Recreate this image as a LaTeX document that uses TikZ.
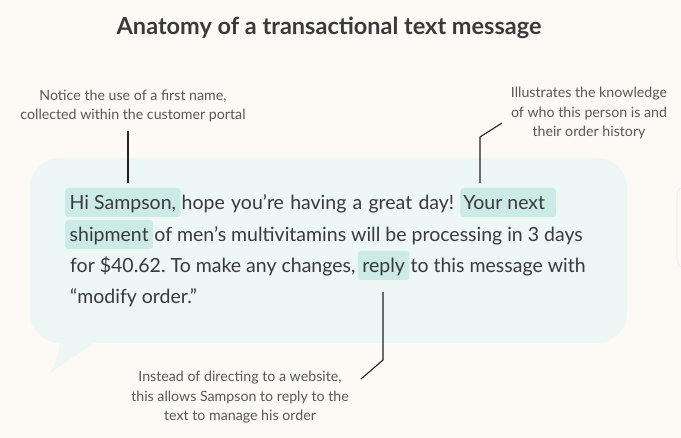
\documentclass[tikz,border=0pt]{standalone}
\usepackage{fontspec}
\setmainfont{Lato}
\frenchspacing
\definecolor{bgc}{HTML}{FDF9F5}
\definecolor{bub}{HTML}{EDF7F6}
\definecolor{hlc}{HTML}{CCEBE7}
\definecolor{txt}{HTML}{3A3A3A}
\definecolor{ann}{HTML}{585858}
\definecolor{ln}{HTML}{222222}
\tikzset{
  msg/.style={font=\fontsize{19.5}{22}\selectfont, text=txt, inner xsep=0.8pt, inner ysep=0pt, anchor=base west},
  hl/.style={msg, fill=hlc, rounded corners=3pt, inner xsep=4.5pt, text height=22pt, text depth=7pt},
  note/.style={font=\fontsize{14.2}{19.5}\selectfont, text=ann, align=center, inner sep=0pt},
  lead/.style={draw=ln, line width=1.1pt},
}
\begin{document}
\begin{tikzpicture}[x=1pt,y=-1pt]
\fill[bgc] (0,0) rectangle (681,438);
\useasboundingbox (0,0) rectangle (681,438);
% faint box at right edge
\draw[black!8, rounded corners=8pt, line width=0.6pt] (677,187) rectangle (700,268);
% title
\node[font=\fontsize{23.5}{26}\selectfont\bfseries, text=txt, anchor=base] (title) at (329,35) {Anatomy of a transactional text message};
% bubble
\fill[bub, rounded corners=30pt] (30,158) rectangle (627,343);
\fill[bub] (60,340) .. controls (59,355) and (55,364) .. (50,373) -- (94,343) -- (94,340) -- cycle;
% message lines
\node[hl] (l1a) at (65,210) {Hi Sampson,};
\node[msg] (l1b) at (l1a.base east) {\spaceskip=1.25\fontdimen2\font plus 1pt hope you’re having a great day!};
\node[hl, inner xsep=0pt, anchor=base west] (l1c) at ([xshift=5pt]l1b.base east) {\kern3pt Your next\kern11pt};
\node[hl] (l2a) at (65,242) {shipment};
\node[msg] (l2b) at (l2a.base east) {of men’s multivitamins will be processing in 3 days};
\node[msg, inner xsep=0pt] (l3a) at (70,273) {for \$40.62. To make any changes,};
\node[hl] (l3b) at ([xshift=2pt]l3a.base east) {reply};
\node[msg] (l3c) at (l3b.base east) {to this message with};
\node[msg, inner xsep=0pt] (l4) at (70,304) {“modify order.”};
% annotations (anchor base = last line)
\node[note, anchor=base] (n1) at (133,120) {Notice the use of a first name,\\collected within the customer portal};
\node[note, anchor=base] (n2) at (589,137) {Illustrates the knowledge\\of who this person is and\\their order history};
\node[note, anchor=base] (n3) at (240,421) {Instead of directing to a website,\\this allows Sampson to reply to the\\text to manage his order};
% leaders
\coordinate (a1) at (128,131);
\coordinate (b1) at (128,183);
\draw[lead] (a1) -- (b1);
\coordinate (a2) at (502,123);
\coordinate (k2) at (480,137);
\coordinate (b2) at (480,183);
\draw[lead] (a2) -- (k2) -- (b2);
\coordinate (a3) at (383,292);
\coordinate (k3) at (383,360);
\coordinate (b3) at (361,379);
\draw[lead] (a3) -- (k3) -- (b3);
\end{tikzpicture}
\end{document}
